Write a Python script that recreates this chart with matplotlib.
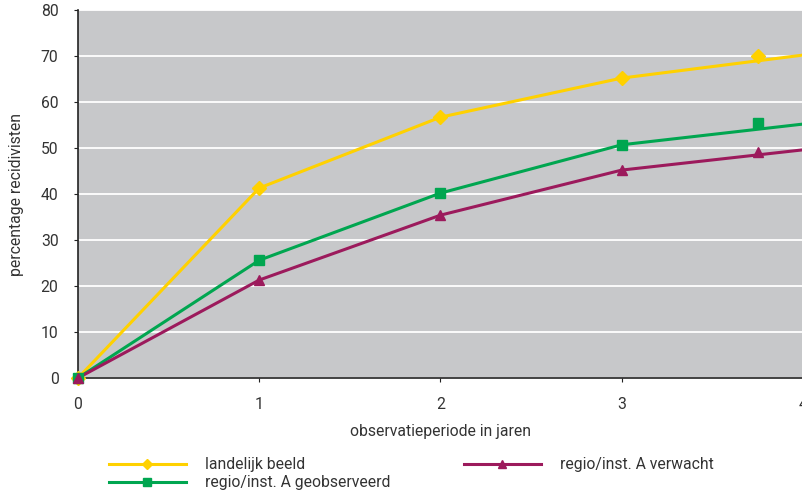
import matplotlib
matplotlib.use('Agg')
import matplotlib.pyplot as plt

# observatieperiode (jaren) en percentages recidivisten
jaren = [0, 1, 2, 3, 4]
landelijk = [0, 41.3, 56.7, 65.2, 70.2]
geobserveerd = [0, 25.6, 40.2, 50.7, 55.2]
verwacht = [0, 21.3, 35.4, 45.2, 49.6]

# markers: laatste meting ligt op 3.75 jaar
jaren_mark = [0, 1, 2, 3, 3.75]
landelijk_mark = [0, 41.3, 56.7, 65.2, 70.0]
geobserveerd_mark = [0, 25.6, 40.2, 50.7, 55.4]
verwacht_mark = [0, 21.3, 35.4, 45.2, 49.1]

labels = ['landelijk beeld', 'regio/inst. A geobserveerd', 'regio/inst. A verwacht']
kleuren = ['#ffd100', '#00a650', '#9c1a5c']

plt.rcParams['font.family'] = ['Roboto', 'DejaVu Sans']
plt.rcParams['font.size'] = 11.3

fig = plt.figure(figsize=(8.03, 4.94), dpi=100)
ax = fig.add_axes([78 / 803, 116 / 494, 725 / 803, 368 / 494])
ax.set_facecolor('#c7c8ca')

reeksen = [
    (landelijk, landelijk_mark, 'D', 7),
    (geobserveerd, geobserveerd_mark, 's', 6.5),
    (verwacht, verwacht_mark, '^', 7.5),
]
handles = []
for (lijn, mark, m, ms), kleur in zip(reeksen, kleuren):
    l, = ax.plot(jaren, lijn, color=kleur, lw=2.2, zorder=3)
    p, = ax.plot(jaren_mark, mark, ls='none', marker=m, ms=ms,
                 color=kleur, zorder=4, clip_on=False)
    handles.append((l, p))

ax.set_xlim(0, 4)
ax.set_ylim(0, 80)
ax.set_xticks(range(0, 5))
ax.set_yticks(range(0, 81, 10))
ax.yaxis.grid(True, color='white', lw=1.3)
ax.set_axisbelow(True)
for s in ['top', 'right']:
    ax.spines[s].set_visible(False)
ax.spines['left'].set_color('#222222')
ax.spines['bottom'].set_color('#222222')
ax.spines['left'].set_linewidth(1.2)
ax.spines['bottom'].set_linewidth(1.2)
ax.tick_params(axis='y', length=3, pad=11, colors='#222222', labelcolor='#333333')
ax.tick_params(axis='x', length=3, pad=11, colors='#222222', labelcolor='#333333')

ax.set_xlabel('observatieperiode in jaren', color='#333333', labelpad=8)
ax.set_ylabel('percentage recidivisten', color='#333333', labelpad=12)

fig.legend(handles, labels, loc='upper left', ncol=2,
           bbox_to_anchor=(109 / 803, 1 - 457 / 494), frameon=False,
           handlelength=4.9, handletextpad=1.2, columnspacing=4.7,
           labelspacing=0.2, borderpad=0, borderaxespad=0,
           labelcolor='#333333', markerscale=0.8)

fig.savefig('out.png', dpi=100)
